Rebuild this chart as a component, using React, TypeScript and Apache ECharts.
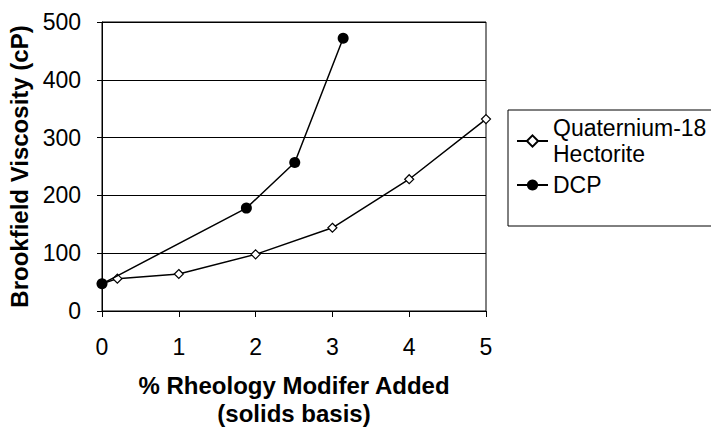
import React, { useEffect, useRef } from "react";
import * as echarts from "echarts";

const quatX = [0, 0.2, 1, 2, 3, 4, 5];
const quatY = [47, 56, 64, 98, 144, 228, 332];
const dcpX = [0, 1.88, 2.51, 3.14];
const dcpY = [47, 178, 257, 472];
const xTicks = [0, 1, 2, 3, 4, 5];
const yTicks = [0, 100, 200, 300, 400, 500];
const quatName = "Quaternium-18\nHectorite";
const dcpName = "DCP";

export default function App() {
  const ref = useRef<HTMLDivElement>(null);
  useEffect(() => {
    if (!ref.current) return;
    const chart = echarts.init(ref.current, undefined, { renderer: "svg" });
    const font = "Liberation Sans, Arial, sans-serif";
    chart.setOption({
      animation: false,
      backgroundColor: "#fff",
      grid: {
        left: 102,
        right: 225,
        top: 22,
        bottom: 116,
        show: true,
        borderColor: "#000",
        borderWidth: 1,
        backgroundColor: "transparent",
        containLabel: false,
        outerBoundsMode: "none",
      },
      legend: [
        {
          data: [quatName],
          left: 511,
          top: 97,
          orient: "vertical",
          itemWidth: 31,
          itemHeight: 14,
          itemGap: 0,
          textStyle: { fontSize: 23, color: "#000", fontFamily: font, lineHeight: 26, padding: [26, 0, 0, 0] },
          selectedMode: false,
        },
        {
          data: [dcpName],
          left: 511,
          top: 167,
          orient: "vertical",
          itemWidth: 31,
          itemHeight: 14,
          textStyle: { fontSize: 23, color: "#000", fontFamily: font, lineHeight: 26 },
          selectedMode: false,
        },
      ],
      graphic: [
        {
          type: "rect",
          shape: { x: 508, y: 110, width: 260, height: 116 },
          style: { fill: "none", stroke: "#000", lineWidth: 1 },
          silent: true,
        },
      ],
      xAxis: {
        type: "value",
        min: xTicks[0],
        max: xTicks[xTicks.length - 1],
        interval: 1,
        name: "% Rheology Modifer Added\n(solids basis)",
        nameLocation: "middle",
        nameGap: 60,
        nameTextStyle: { fontSize: 24, fontWeight: "bold", color: "#000", lineHeight: 28, fontFamily: font },
        axisLine: { lineStyle: { color: "#000", width: 1 } },
        axisTick: { show: true, length: 6, lineStyle: { color: "#000" } },
        axisLabel: { fontSize: 23, color: "#000", margin: 24, fontFamily: font },
        splitLine: { show: false },
      },
      yAxis: {
        type: "value",
        min: yTicks[0],
        max: yTicks[yTicks.length - 1],
        interval: 100,
        name: "Brookfield Viscosity (cP)",
        nameLocation: "middle",
        nameGap: 63,
        nameRotate: 90,
        nameTextStyle: { fontSize: 24, fontWeight: "bold", color: "#000", fontFamily: font },
        axisLine: { show: true, lineStyle: { color: "#000", width: 1 } },
        axisTick: { show: true, length: 5, lineStyle: { color: "#000" } },
        axisLabel: { fontSize: 23, color: "#000", margin: 21, fontFamily: font },
        splitLine: { show: true, lineStyle: { color: "#000", width: 1 } },
      },
      series: [
        {
          name: quatName,
          type: "line",
          data: quatX.map((x, i) => [x, quatY[i]]),
          symbol: "diamond",
          symbolSize: 9,
          showAllSymbol: true,
          lineStyle: { color: "#000", width: 1.5 },
          itemStyle: { color: "#fff", borderColor: "#000", borderWidth: 1.2 },
          z: 2,
        },
        {
          name: dcpName,
          type: "line",
          data: dcpX.map((x, i) => [x, dcpY[i]]),
          symbol: "circle",
          symbolSize: 11,
          lineStyle: { color: "#000", width: 1.5 },
          itemStyle: { color: "#000", borderColor: "#000", borderWidth: 0 },
          z: 3,
        },
      ],
    });
    return () => chart.dispose();
  }, []);
  return <div ref={ref} style={{ width: 711, height: 427, position: "absolute", left: 0, top: 0 }} />;
}
